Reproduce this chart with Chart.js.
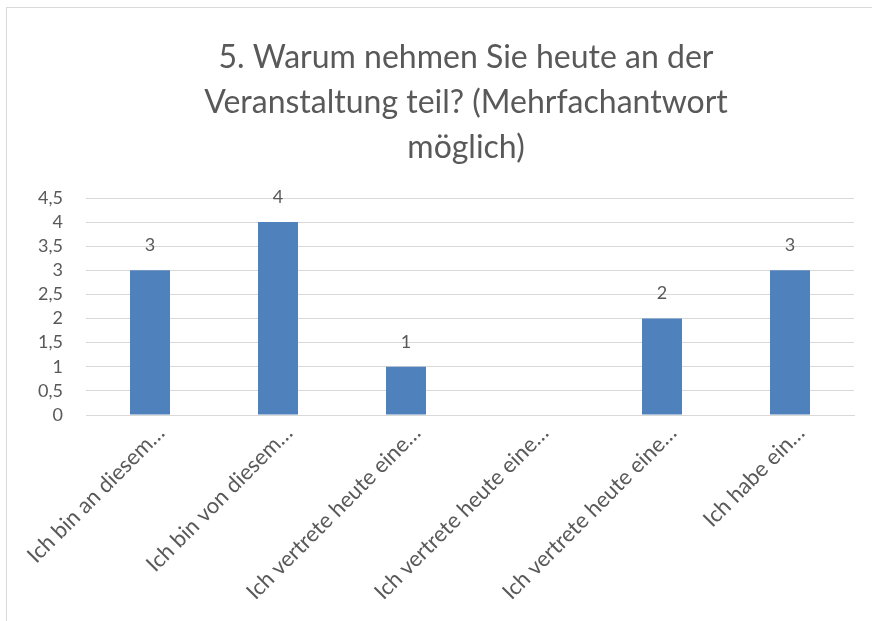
<!DOCTYPE html>
<html><head><meta charset="utf-8">
<script src="https://cdn.jsdelivr.net/npm/chart.js@4"></script>
<style>
html,body{margin:0;padding:0;background:#fff;}
#wrap{position:relative;width:872px;height:621px;}
#frame{position:absolute;left:6px;top:7px;right:0;bottom:0;border-left:1.5px solid #d9d9d9;border-top:1.5px solid #d9d9d9;}
canvas{position:absolute;left:0;top:0;}
</style></head>
<body><div id="wrap"><div id="frame"></div><canvas id="c" width="872" height="621"></canvas></div>
<script>
const titleLines = ["5. Warum nehmen Sie heute an der", "Veranstaltung teil? (Mehrfachantwort", "möglich)"];
const categories = ["Ich bin an diesem…", "Ich bin von diesem…", "Ich vertrete heute eine…", "Ich vertrete heute eine…", "Ich vertrete heute eine…", "Ich habe ein…"];
const values = [3, 4, 1, null, 2, 3];
const yTicks = [0, 0.5, 1, 1.5, 2, 2.5, 3, 3.5, 4, 4.5];

const FONT = "Lato, 'Open Sans', sans-serif";
const TXT = "#595959";

const titleDraw = {
  id: 'titleDraw',
  afterDraw(chart) {
    const ctx = chart.ctx;
    ctx.save();
    ctx.font = "32px " + FONT;
    ctx.fillStyle = TXT;
    ctx.textAlign = 'center';
    ctx.textBaseline = 'middle';
    titleLines.forEach((t, i) => ctx.fillText(t, 466, 57.5 + 45 * i));
    ctx.restore();
  }
};

const dataLabels = {
  id: 'dataLabels',
  afterDatasetsDraw(chart) {
    const ctx = chart.ctx;
    const meta = chart.getDatasetMeta(0);
    ctx.save();
    ctx.font = "18px " + FONT;
    ctx.fillStyle = TXT;
    ctx.textAlign = 'center';
    ctx.textBaseline = 'middle';
    meta.data.forEach((el, i) => {
      const v = values[i];
      if (v === null || v === undefined) return;
      ctx.fillText(String(v), el.x, el.y - 25);
    });
    ctx.restore();
  }
};

new Chart(document.getElementById('c'), {
  type: 'bar',
  data: {
    labels: categories,
    datasets: [{
      data: values,
      backgroundColor: '#4f81bd',
      categoryPercentage: 1,
      barPercentage: 0.3125
    }]
  },
  options: {
    responsive: false,
    animation: false,
    events: [],
    layout: { padding: { left: 0, right: 18, top: 198, bottom: 0 } },
    plugins: {
      legend: { display: false },
      tooltip: { enabled: false },
      title: { display: false }
    },
    scales: {
      x: {
        grid: { display: false, drawTicks: false },
        border: { display: true, color: '#d9d9d9', width: 1 },
        ticks: {
          color: TXT,
          font: { family: FONT, size: 22 },
          maxRotation: 45, minRotation: 45,
          autoSkip: false,
          padding: 5,
          labelOffset: 11
        },
        afterFit(scale) { scale.height = 206; }
      },
      y: {
        min: 0, max: 4.5,
        afterBuildTicks(scale) { scale.ticks = yTicks.map(v => ({ value: v })); },
        grid: { color: '#d9d9d9', drawTicks: false },
        border: { display: false },
        ticks: {
          color: TXT,
          font: { family: FONT, size: 18 },
          padding: 23,
          autoSkip: false,
          callback: v => String(v).replace('.', ',')
        },
        afterFit(scale) { scale.width = 86; }
      }
    }
  },
  plugins: [dataLabels, titleDraw]
});
</script>
</body></html>
